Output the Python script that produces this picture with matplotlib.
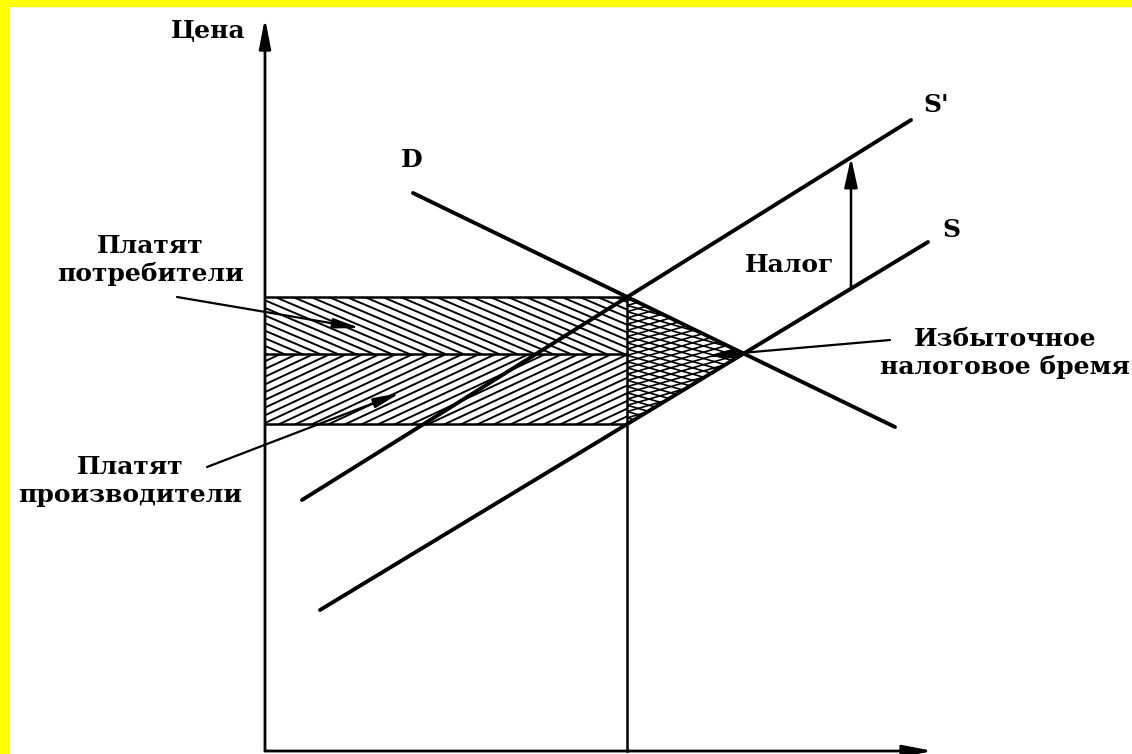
import numpy as np
import matplotlib
matplotlib.use("Agg")
import matplotlib.pyplot as plt
from matplotlib.patches import Polygon, Rectangle

# концы отрезков кривых (Q, P)
d_q = [148, 630]
d_p = [558, 324]
s_q = [55, 663]
s_p = [141, 509]
st_q = [37, 646]          # S' (со сдвигом на налог)
st_p = [251, 631]
tax_q = 586               # где нарисована стрелка "Налог"

axis_q_max = 668
axis_p_max = 733

FONT = dict(family="DejaVu Serif", fontweight="bold", fontsize=18, color="black")


def coef(q, p):
    k = (p[1] - p[0]) / (q[1] - q[0])
    return k, p[0] - k * q[0]


def cross(a, b):
    q = (b[1] - a[1]) / (a[0] - b[0])
    return q, a[0] * q + a[1]


def hatch(ax, verts, angle, step, lw=1.4):
    poly = Polygon(verts, closed=True, fill=False, lw=0)
    ax.add_patch(poly)
    t = np.tan(np.radians(angle))
    dc = step / np.cos(np.radians(angle))
    cs = [y - t * x for x, y in verts]
    xs = [x for x, y in verts]
    x0, x1 = min(xs) - 5, max(xs) + 5
    for c in np.arange(min(cs), max(cs) + dc, dc):
        ln, = ax.plot([x0, x1], [t * x0 + c, t * x1 + c], color="black", lw=lw)
        ln.set_clip_path(poly)


D = coef(d_q, d_p)
S = coef(s_q, s_p)
ST = coef(st_q, st_p)

q_t, p_c = cross(D, ST)       # равновесие с налогом
q_0, p_0 = cross(D, S)        # равновесие без налога
p_p = S[0] * q_t + S[1]       # цена производителя

fig = plt.figure(figsize=(11.32, 7.54), dpi=100, facecolor="white")
# жёлтая рамка слева и сверху
fig.patches.append(Rectangle((0, 0), 9 / 1132, 1, transform=fig.transFigure,
                             color="#ffff00", zorder=0))
fig.patches.append(Rectangle((0, 1 - 6 / 754), 1, 6 / 754, transform=fig.transFigure,
                             color="#ffff00", zorder=0))
ax = fig.add_axes([9 / 1132, 0, 1 - 9 / 1132, 1 - 6 / 754])
ax.set_xlim(-256, 867)
ax.set_ylim(-3, 745)
ax.axis("off")

# штриховка
hatch(ax, [(0, p_0), (q_t, p_0), (q_t, p_c), (0, p_c)], -23, 7)
hatch(ax, [(0, p_p), (q_t, p_p), (q_t, p_0), (0, p_0)], 25, 7)
tri = [(q_t, p_c), (q_0, p_0), (q_t, p_p)]
hatch(ax, tri, 16, 6, lw=1.2)
hatch(ax, tri, -16, 6, lw=1.2)

# прямоугольники
for lvl in (p_c, p_0, p_p):
    ax.plot([0, q_t], [lvl, lvl], color="black", lw=1.8)
ax.plot([q_t, q_t], [0, p_c], color="black", lw=1.8)

# кривые
ax.plot(d_q, d_p, color="black", lw=2.8, solid_capstyle="round")
ax.plot(s_q, s_p, color="black", lw=2.8, solid_capstyle="round")
ax.plot(st_q, st_p, color="black", lw=2.8, solid_capstyle="round")

# оси
ax.annotate("", xy=(0, axis_p_max), xytext=(0, 0),
            arrowprops=dict(arrowstyle="-|>,head_length=1.8,head_width=0.35",
                            lw=2, color="black", shrinkA=0, shrinkB=0))
ax.annotate("", xy=(axis_q_max, 0), xytext=(0, 0),
            arrowprops=dict(arrowstyle="-|>,head_length=1.8,head_width=0.35",
                            lw=2, color="black", shrinkA=0, shrinkB=0))

# налог
ax.annotate("", xy=(tax_q, ST[0] * tax_q + ST[1]), xytext=(tax_q, S[0] * tax_q + S[1]),
            arrowprops=dict(arrowstyle="-|>,head_length=1.8,head_width=0.4",
                            lw=1.8, color="black", shrinkA=0, shrinkB=0))

# подписи
ax.text(-20, 720, "Цена", ha="right", va="center", **FONT)
ax.text(147, 591, "D", ha="center", va="center", **FONT)
ax.text(658, 646, "S'", ha="left", va="center", **FONT)
ax.text(677, 521, "S", ha="left", va="center", **FONT)
ax.text(525, 486, "Налог", ha="center", va="center", **FONT)

arr = dict(arrowstyle="-|>,head_length=1.6,head_width=0.3", lw=1.6, color="black",
           shrinkA=0, shrinkB=0)
ax.text(-115, 491, "Платят\nпотребители", ha="center", va="center", linespacing=1.25, **FONT)
ax.annotate("", xy=(95, 423), xytext=(-88, 454), arrowprops=arr)
ax.text(-135, 270, "Платят\nпроизводители", ha="center", va="center", linespacing=1.25, **FONT)
ax.annotate("", xy=(135, 358), xytext=(-58, 284), arrowprops=arr)
ax.text(740, 398, "Избыточное\nналоговое бремя", ha="center", va="center", linespacing=1.25, **FONT)
ax.annotate("", xy=(442, 395), xytext=(625, 411), arrowprops=arr)

fig.savefig("out.png", dpi=100)
